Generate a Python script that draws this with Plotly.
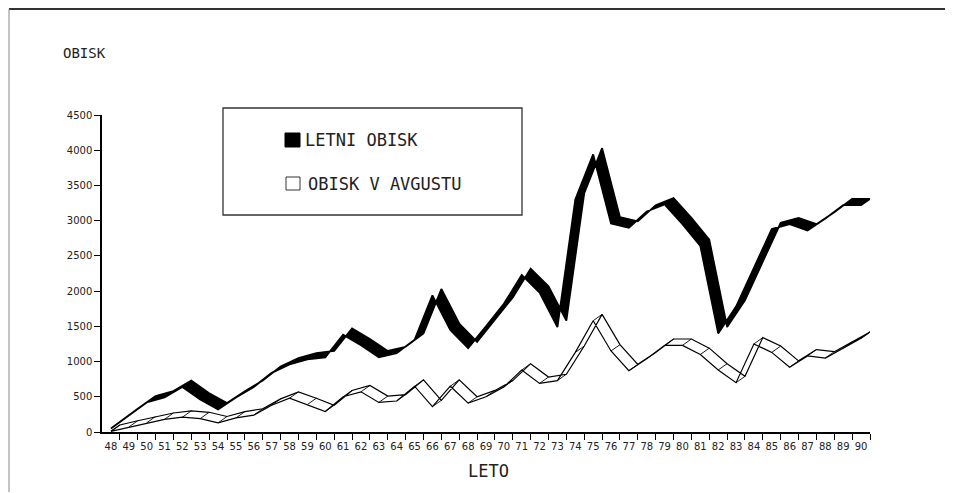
import plotly.graph_objects as go

# ---- data ----
years = list(range(48, 91))
year_labels = [str(y) for y in years]

letni_obisk = [50, 240, 420, 490, 640, 460, 320, 490, 640, 840,
               960, 1030, 1060, 1380, 1230, 1060, 1120, 1310, 1940, 1450,
               1190, 1500, 1820, 2230, 1980, 1490, 3300, 3940, 2960, 2900,
               3130, 3230, 2950, 2640, 1400, 1780, 2320, 2880, 2950, 2860,
               3030, 3220, 3220]

obisk_avgust = [10, 70, 130, 180, 210, 190, 130, 200, 240, 380,
                480, 390, 290, 500, 570, 420, 440, 650, 360, 650,
                410, 500, 640, 880, 690, 730, 1130, 1580, 1150, 870,
                1040, 1230, 1230, 1100, 880, 700, 1250, 1130, 920, 1080,
                1050, 1190, 1330]

y_ticks = [0, 500, 1000, 1500, 2000, 2500, 3000, 3500, 4000, 4500]

# ribbon depth (3-D offset of the back edge) in data units
DX = 0.5
DY = 90

MONO = "DejaVu Sans Mono, Liberation Mono, monospace"
SANS = "DejaVu Sans, Liberation Sans, sans-serif"


def ribbon(xs, ys):
    bx = [x + DX for x in xs]
    by = [y + DY for y in ys]
    return xs + bx[::-1] + [xs[0]], ys + by[::-1] + [ys[0]]


def connectors(xs, ys):
    cx, cy = [], []
    for x, y in zip(xs, ys):
        cx += [x, x + DX, None]
        cy += [y, y + DY, None]
    return cx, cy


fig = go.Figure()

# white ribbon: OBISK V AVGUSTU
wx, wy = ribbon(years, obisk_avgust)
fig.add_trace(go.Scatter(x=wx, y=wy, mode="lines", fill="toself",
                         fillcolor="white", line=dict(color="black", width=1.2),
                         name="OBISK V AVGUSTU", showlegend=False, hoverinfo="skip"))
cx, cy = connectors(years, obisk_avgust)
fig.add_trace(go.Scatter(x=cx, y=cy, mode="lines",
                         line=dict(color="black", width=0.9),
                         showlegend=False, hoverinfo="skip"))

# black ribbon: LETNI OBISK
bx, by = ribbon(years, letni_obisk)
fig.add_trace(go.Scatter(x=bx, y=by, mode="lines", fill="toself",
                         fillcolor="black", line=dict(color="black", width=1.8),
                         name="LETNI OBISK", showlegend=False, hoverinfo="skip"))

# page has an 8px body margin: figure is 945x485, shifted by 8px
fig.update_layout(
    width=945, height=485,
    margin=dict(l=94, r=83, t=107, b=61),
    paper_bgcolor="white", plot_bgcolor="white",
    showlegend=False,
    xaxis=dict(
        range=[47.5, 90.5], showgrid=False, zeroline=False,
        tickmode="array", tickvals=years, ticktext=year_labels,
        ticks="", showline=True, linecolor="black", linewidth=1.5,
        ticklabelstandoff=4,
        tickfont=dict(family=SANS, size=10, color="#222"),
        minor=dict(tickmode="array", tickvals=[y + DX for y in years],
                   ticks="outside", ticklen=6, tickwidth=1.2, tickcolor="black"),
    ),
    yaxis=dict(
        range=[0, 4500], showgrid=False, zeroline=False,
        tickmode="array", tickvals=y_ticks, ticktext=[str(v) for v in y_ticks],
        ticks="outside", ticklen=6, tickwidth=1.3, tickcolor="black",
        showline=True, linecolor="black", linewidth=1.5,
        tickfont=dict(family=SANS, size=10, color="#222"),
    ),
)


def px(xp):
    # page pixel (reference) -> paper x
    return (xp - 102) / 768


def py(yp):
    # page pixel (reference) -> paper y
    return (432 - yp) / 317


# title "OBISK"
fig.add_annotation(text="OBISK", xref="paper", yref="paper",
                   x=px(61), y=py(53), xanchor="left", yanchor="middle",
                   showarrow=False, font=dict(family=MONO, size=14, color="#222"))

# x axis title
fig.add_annotation(text="LETO", xref="paper", yref="paper",
                   x=px(488), y=py(471), xanchor="center", yanchor="middle",
                   showarrow=False, font=dict(family=MONO, size=17, color="#222"))

# page frame
fig.add_shape(type="line", xref="paper", yref="paper",
              x0=px(9), x1=px(948), y0=py(9), y1=py(9),
              line=dict(color="#333", width=2))
fig.add_shape(type="line", xref="paper", yref="paper",
              x0=px(9), x1=px(9), y0=py(9), y1=py(492),
              line=dict(color="#888", width=1))
fig.add_shape(type="line", xref="paper", yref="paper",
              x0=px(947), x1=px(947), y0=py(9), y1=py(492),
              line=dict(color="#bbb", width=1))

# legend box
fig.add_shape(type="rect", xref="paper", yref="paper",
              x0=px(223), x1=px(522), y0=py(108), y1=py(215),
              line=dict(color="#333", width=1.3), fillcolor="white")
fig.add_shape(type="rect", xref="paper", yref="paper",
              x0=px(285), x1=px(300), y0=py(133), y1=py(147),
              line=dict(color="black", width=1), fillcolor="black")
fig.add_shape(type="rect", xref="paper", yref="paper",
              x0=px(286), x1=px(300), y0=py(177), y1=py(190),
              line=dict(color="#333", width=1), fillcolor="white")
fig.add_annotation(text="LETNI OBISK", xref="paper", yref="paper",
                   x=px(303), y=py(140), xanchor="left", yanchor="middle",
                   showarrow=False, font=dict(family=MONO, size=17, color="#222"))
fig.add_annotation(text="OBISK V AVGUSTU", xref="paper", yref="paper",
                   x=px(306), y=py(184), xanchor="left", yanchor="middle",
                   showarrow=False, font=dict(family=MONO, size=17, color="#222"))

fig.write_html("out.html")
